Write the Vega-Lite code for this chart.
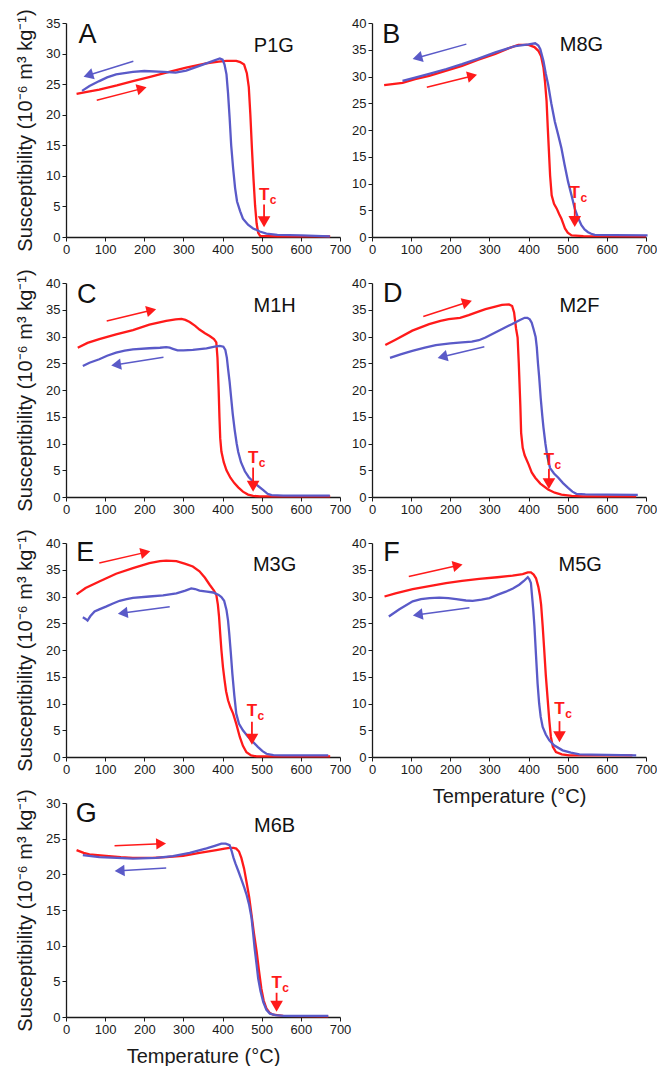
{
"$schema": "https://vega.github.io/schema/vega-lite/v6.json",
"padding": {"left": 15, "top": 8, "right": 0, "bottom": 0},
"config": {
  "font": "Liberation Sans",
  "view": {"stroke": null},
  "axis": {"grid": false, "domainColor": "#1a1a1a", "domainWidth": 1.3, "tickColor": "#1a1a1a", "tickSize": 4, "labelColor": "#1a1a1a", "labelFontSize": 13, "labelFlush": false, "labelOverlap": false, "labelPadding": 2, "titleFontWeight": "normal", "titleFontSize": 20, "titleColor": "#1a1a1a", "titlePadding": 10}
},
"datasets": {
  "curves": [
    {"panel":"A","run":"heating","T":27,"k":23.4},{"panel":"A","run":"heating","T":50,"k":23.7},{"panel":"A","run":"heating","T":85,"k":24.1},{"panel":"A","run":"heating","T":130,"k":24.8},{"panel":"A","run":"heating","T":171,"k":25.5},{"panel":"A","run":"heating","T":215,"k":26.2},{"panel":"A","run":"heating","T":256,"k":26.9},{"panel":"A","run":"heating","T":307,"k":27.7},{"panel":"A","run":"heating","T":358,"k":28.4},{"panel":"A","run":"heating","T":390,"k":28.7},{"panel":"A","run":"heating","T":410,"k":28.8},{"panel":"A","run":"heating","T":435,"k":28.8},{"panel":"A","run":"heating","T":445,"k":28.6},{"panel":"A","run":"heating","T":455,"k":28.2},{"panel":"A","run":"heating","T":462,"k":26.8},{"panel":"A","run":"heating","T":467,"k":24.5},{"panel":"A","run":"heating","T":471,"k":20},{"panel":"A","run":"heating","T":475,"k":14.5},{"panel":"A","run":"heating","T":479,"k":9.5},{"panel":"A","run":"heating","T":483,"k":5.2},{"panel":"A","run":"heating","T":487,"k":2.2},{"panel":"A","run":"heating","T":491,"k":0.7},{"panel":"A","run":"heating","T":496,"k":0.2},{"panel":"A","run":"heating","T":540,"k":0.1},{"panel":"A","run":"heating","T":675,"k":0.1},
    {"panel":"A","run":"cooling","T":41,"k":23.9},{"panel":"A","run":"cooling","T":60,"k":24.7},{"panel":"A","run":"cooling","T":85,"k":25.5},{"panel":"A","run":"cooling","T":105,"k":26.1},{"panel":"A","run":"cooling","T":128,"k":26.6},{"panel":"A","run":"cooling","T":171,"k":27},{"panel":"A","run":"cooling","T":200,"k":27.15},{"panel":"A","run":"cooling","T":250,"k":27},{"panel":"A","run":"cooling","T":280,"k":26.9},{"panel":"A","run":"cooling","T":307,"k":27.2},{"panel":"A","run":"cooling","T":341,"k":28},{"panel":"A","run":"cooling","T":376,"k":28.8},{"panel":"A","run":"cooling","T":393,"k":29.2},{"panel":"A","run":"cooling","T":400,"k":29.0},{"panel":"A","run":"cooling","T":405,"k":28.2},{"panel":"A","run":"cooling","T":410,"k":26.6},{"panel":"A","run":"cooling","T":414,"k":23.5},{"panel":"A","run":"cooling","T":418,"k":19.5},{"panel":"A","run":"cooling","T":422,"k":15},{"panel":"A","run":"cooling","T":427,"k":11.2},{"panel":"A","run":"cooling","T":432,"k":8},{"panel":"A","run":"cooling","T":437,"k":5.8},{"panel":"A","run":"cooling","T":445,"k":4.2},{"panel":"A","run":"cooling","T":452,"k":3},{"panel":"A","run":"cooling","T":465,"k":2},{"panel":"A","run":"cooling","T":478,"k":1.4},{"panel":"A","run":"cooling","T":495,"k":0.9},{"panel":"A","run":"cooling","T":512,"k":0.55},{"panel":"A","run":"cooling","T":540,"k":0.35},{"panel":"A","run":"cooling","T":600,"k":0.25},{"panel":"A","run":"cooling","T":674,"k":0.1},
    {"panel":"B","run":"heating","T":31,"k":28.4},{"panel":"B","run":"heating","T":78,"k":28.8},{"panel":"B","run":"heating","T":110,"k":29.5},{"panel":"B","run":"heating","T":146,"k":30.1},{"panel":"B","run":"heating","T":190,"k":31.1},{"panel":"B","run":"heating","T":230,"k":32},{"panel":"B","run":"heating","T":270,"k":33.1},{"panel":"B","run":"heating","T":315,"k":34.2},{"panel":"B","run":"heating","T":350,"k":35.3},{"panel":"B","run":"heating","T":374,"k":35.9},{"panel":"B","run":"heating","T":400,"k":35.9},{"panel":"B","run":"heating","T":415,"k":35.5},{"panel":"B","run":"heating","T":425,"k":34.8},{"panel":"B","run":"heating","T":432,"k":33.8},{"panel":"B","run":"heating","T":438,"k":31.7},{"panel":"B","run":"heating","T":442,"k":29},{"panel":"B","run":"heating","T":446,"k":25.4},{"panel":"B","run":"heating","T":449,"k":20.5},{"panel":"B","run":"heating","T":452,"k":16},{"panel":"B","run":"heating","T":455,"k":11.5},{"panel":"B","run":"heating","T":459,"k":7.8},{"panel":"B","run":"heating","T":465,"k":6.2},{"panel":"B","run":"heating","T":472,"k":5.3},{"panel":"B","run":"heating","T":478,"k":4.3},{"panel":"B","run":"heating","T":484,"k":3.4},{"panel":"B","run":"heating","T":489,"k":2.4},{"panel":"B","run":"heating","T":493,"k":1.6},{"panel":"B","run":"heating","T":500,"k":0.8},{"panel":"B","run":"heating","T":510,"k":0.3},{"panel":"B","run":"heating","T":540,"k":0.15},{"panel":"B","run":"heating","T":700,"k":0.1},
    {"panel":"B","run":"cooling","T":78,"k":29.2},{"panel":"B","run":"cooling","T":110,"k":29.8},{"panel":"B","run":"cooling","T":146,"k":30.5},{"panel":"B","run":"cooling","T":190,"k":31.4},{"panel":"B","run":"cooling","T":230,"k":32.3},{"panel":"B","run":"cooling","T":270,"k":33.3},{"panel":"B","run":"cooling","T":315,"k":34.5},{"panel":"B","run":"cooling","T":366,"k":35.7},{"panel":"B","run":"cooling","T":400,"k":36},{"panel":"B","run":"cooling","T":417,"k":36.2},{"panel":"B","run":"cooling","T":425,"k":35.8},{"panel":"B","run":"cooling","T":430,"k":35.1},{"panel":"B","run":"cooling","T":438,"k":32.9},{"panel":"B","run":"cooling","T":444,"k":30.5},{"panel":"B","run":"cooling","T":450,"k":28.5},{"panel":"B","run":"cooling","T":458,"k":25},{"panel":"B","run":"cooling","T":467,"k":21.6},{"panel":"B","run":"cooling","T":476,"k":19},{"panel":"B","run":"cooling","T":484,"k":16.6},{"panel":"B","run":"cooling","T":492,"k":13.5},{"panel":"B","run":"cooling","T":501,"k":10.3},{"panel":"B","run":"cooling","T":510,"k":7.7},{"panel":"B","run":"cooling","T":518,"k":5.3},{"panel":"B","run":"cooling","T":527,"k":3.5},{"panel":"B","run":"cooling","T":535,"k":2.2},{"panel":"B","run":"cooling","T":543,"k":1.4},{"panel":"B","run":"cooling","T":552,"k":0.9},{"panel":"B","run":"cooling","T":560,"k":0.6},{"panel":"B","run":"cooling","T":569,"k":0.4},{"panel":"B","run":"cooling","T":620,"k":0.35},{"panel":"B","run":"cooling","T":704,"k":0.3},
    {"panel":"C","run":"heating","T":30,"k":27.9},{"panel":"C","run":"heating","T":55,"k":28.8},{"panel":"C","run":"heating","T":85,"k":29.5},{"panel":"C","run":"heating","T":128,"k":30.4},{"panel":"C","run":"heating","T":171,"k":31.2},{"panel":"C","run":"heating","T":213,"k":32.2},{"panel":"C","run":"heating","T":256,"k":32.9},{"panel":"C","run":"heating","T":280,"k":33.2},{"panel":"C","run":"heating","T":295,"k":33.3},{"panel":"C","run":"heating","T":305,"k":33.1},{"panel":"C","run":"heating","T":316,"k":32.7},{"panel":"C","run":"heating","T":330,"k":32},{"panel":"C","run":"heating","T":341,"k":31.3},{"panel":"C","run":"heating","T":355,"k":30.6},{"panel":"C","run":"heating","T":367,"k":30.1},{"panel":"C","run":"heating","T":378,"k":29.5},{"panel":"C","run":"heating","T":384,"k":28.9},{"panel":"C","run":"heating","T":387,"k":26},{"panel":"C","run":"heating","T":390,"k":20},{"panel":"C","run":"heating","T":392,"k":15},{"panel":"C","run":"heating","T":394,"k":11},{"panel":"C","run":"heating","T":397,"k":8.5},{"panel":"C","run":"heating","T":403,"k":6.5},{"panel":"C","run":"heating","T":410,"k":5},{"panel":"C","run":"heating","T":420,"k":3.6},{"panel":"C","run":"heating","T":430,"k":2.6},{"panel":"C","run":"heating","T":440,"k":1.8},{"panel":"C","run":"heating","T":452,"k":1.0},{"panel":"C","run":"heating","T":465,"k":0.45},{"panel":"C","run":"heating","T":478,"k":0.2},{"panel":"C","run":"heating","T":495,"k":0.1},{"panel":"C","run":"heating","T":675,"k":0.1},
    {"panel":"C","run":"cooling","T":43,"k":24.5},{"panel":"C","run":"cooling","T":60,"k":25.1},{"panel":"C","run":"cooling","T":85,"k":25.75},{"panel":"C","run":"cooling","T":105,"k":26.4},{"panel":"C","run":"cooling","T":128,"k":27},{"panel":"C","run":"cooling","T":150,"k":27.35},{"panel":"C","run":"cooling","T":171,"k":27.6},{"panel":"C","run":"cooling","T":213,"k":27.8},{"panel":"C","run":"cooling","T":240,"k":27.9},{"panel":"C","run":"cooling","T":256,"k":28},{"panel":"C","run":"cooling","T":265,"k":27.9},{"panel":"C","run":"cooling","T":273,"k":27.7},{"panel":"C","run":"cooling","T":285,"k":27.4},{"panel":"C","run":"cooling","T":300,"k":27.4},{"panel":"C","run":"cooling","T":324,"k":27.5},{"panel":"C","run":"cooling","T":359,"k":27.8},{"panel":"C","run":"cooling","T":380,"k":28.1},{"panel":"C","run":"cooling","T":393,"k":28.25},{"panel":"C","run":"cooling","T":402,"k":28.1},{"panel":"C","run":"cooling","T":407,"k":27.5},{"panel":"C","run":"cooling","T":411,"k":26},{"panel":"C","run":"cooling","T":414,"k":24},{"panel":"C","run":"cooling","T":418,"k":21.5},{"panel":"C","run":"cooling","T":422,"k":18.5},{"panel":"C","run":"cooling","T":426,"k":15.5},{"panel":"C","run":"cooling","T":431,"k":12.5},{"panel":"C","run":"cooling","T":436,"k":10},{"panel":"C","run":"cooling","T":440,"k":8.4},{"panel":"C","run":"cooling","T":447,"k":6.5},{"panel":"C","run":"cooling","T":457,"k":4.8},{"panel":"C","run":"cooling","T":467,"k":3.7},{"panel":"C","run":"cooling","T":478,"k":2.9},{"panel":"C","run":"cooling","T":490,"k":2.1},{"panel":"C","run":"cooling","T":504,"k":1.3},{"panel":"C","run":"cooling","T":515,"k":0.6},{"panel":"C","run":"cooling","T":525,"k":0.35},{"panel":"C","run":"cooling","T":555,"k":0.25},{"panel":"C","run":"cooling","T":674,"k":0.25},
    {"panel":"D","run":"heating","T":34,"k":28.4},{"panel":"D","run":"heating","T":60,"k":29.4},{"panel":"D","run":"heating","T":103,"k":31.1},{"panel":"D","run":"heating","T":146,"k":32.3},{"panel":"D","run":"heating","T":175,"k":32.9},{"panel":"D","run":"heating","T":196,"k":33.25},{"panel":"D","run":"heating","T":225,"k":33.5},{"panel":"D","run":"heating","T":247,"k":34},{"panel":"D","run":"heating","T":270,"k":34.6},{"panel":"D","run":"heating","T":290,"k":35.1},{"panel":"D","run":"heating","T":315,"k":35.6},{"panel":"D","run":"heating","T":332,"k":35.9},{"panel":"D","run":"heating","T":350,"k":36},{"panel":"D","run":"heating","T":358,"k":35.7},{"panel":"D","run":"heating","T":363,"k":34.5},{"panel":"D","run":"heating","T":368,"k":31.5},{"panel":"D","run":"heating","T":372,"k":29.8},{"panel":"D","run":"heating","T":375,"k":25},{"panel":"D","run":"heating","T":377,"k":21},{"panel":"D","run":"heating","T":379,"k":17},{"panel":"D","run":"heating","T":381,"k":12},{"panel":"D","run":"heating","T":385,"k":9.2},{"panel":"D","run":"heating","T":390,"k":7.8},{"panel":"D","run":"heating","T":400,"k":6.1},{"panel":"D","run":"heating","T":408,"k":4.6},{"panel":"D","run":"heating","T":417,"k":3.6},{"panel":"D","run":"heating","T":430,"k":2.5},{"panel":"D","run":"heating","T":450,"k":1.4},{"panel":"D","run":"heating","T":467,"k":0.8},{"panel":"D","run":"heating","T":484,"k":0.44},{"panel":"D","run":"heating","T":510,"k":0.2},{"panel":"D","run":"heating","T":540,"k":0.1},{"panel":"D","run":"heating","T":675,"k":0.1},
    {"panel":"D","run":"cooling","T":46,"k":26},{"panel":"D","run":"cooling","T":75,"k":26.7},{"panel":"D","run":"cooling","T":103,"k":27.3},{"panel":"D","run":"cooling","T":135,"k":27.9},{"panel":"D","run":"cooling","T":163,"k":28.4},{"panel":"D","run":"cooling","T":200,"k":28.7},{"panel":"D","run":"cooling","T":230,"k":28.9},{"panel":"D","run":"cooling","T":255,"k":29.05},{"panel":"D","run":"cooling","T":273,"k":29.3},{"panel":"D","run":"cooling","T":290,"k":29.8},{"panel":"D","run":"cooling","T":315,"k":30.75},{"panel":"D","run":"cooling","T":340,"k":31.7},{"panel":"D","run":"cooling","T":357,"k":32.3},{"panel":"D","run":"cooling","T":378,"k":33.1},{"panel":"D","run":"cooling","T":390,"k":33.5},{"panel":"D","run":"cooling","T":397,"k":33.5},{"panel":"D","run":"cooling","T":403,"k":33.2},{"panel":"D","run":"cooling","T":408,"k":32.6},{"panel":"D","run":"cooling","T":413,"k":31.3},{"panel":"D","run":"cooling","T":418,"k":29.9},{"panel":"D","run":"cooling","T":421,"k":28},{"panel":"D","run":"cooling","T":424,"k":25},{"panel":"D","run":"cooling","T":427,"k":22.5},{"panel":"D","run":"cooling","T":431,"k":18.5},{"panel":"D","run":"cooling","T":435,"k":15.2},{"panel":"D","run":"cooling","T":438,"k":13},{"panel":"D","run":"cooling","T":443,"k":10},{"panel":"D","run":"cooling","T":448,"k":7.5},{"panel":"D","run":"cooling","T":455,"k":5.4},{"panel":"D","run":"cooling","T":465,"k":4.4},{"panel":"D","run":"cooling","T":476,"k":3.6},{"panel":"D","run":"cooling","T":488,"k":2.6},{"panel":"D","run":"cooling","T":501,"k":1.7},{"panel":"D","run":"cooling","T":512,"k":1.0},{"panel":"D","run":"cooling","T":522,"k":0.6},{"panel":"D","run":"cooling","T":545,"k":0.5},{"panel":"D","run":"cooling","T":600,"k":0.45},{"panel":"D","run":"cooling","T":679,"k":0.4},
    {"panel":"E","run":"heating","T":27,"k":30.4},{"panel":"E","run":"heating","T":50,"k":31.6},{"panel":"E","run":"heating","T":85,"k":32.8},{"panel":"E","run":"heating","T":128,"k":34.25},{"panel":"E","run":"heating","T":171,"k":35.3},{"panel":"E","run":"heating","T":213,"k":36.25},{"panel":"E","run":"heating","T":240,"k":36.6},{"panel":"E","run":"heating","T":256,"k":36.7},{"panel":"E","run":"heating","T":282,"k":36.6},{"panel":"E","run":"heating","T":305,"k":36.1},{"panel":"E","run":"heating","T":324,"k":35.6},{"panel":"E","run":"heating","T":341,"k":34.7},{"panel":"E","run":"heating","T":355,"k":33.5},{"panel":"E","run":"heating","T":367,"k":32.2},{"panel":"E","run":"heating","T":378,"k":31.1},{"panel":"E","run":"heating","T":384,"k":30.3},{"panel":"E","run":"heating","T":388,"k":28.5},{"panel":"E","run":"heating","T":391,"k":26.25},{"panel":"E","run":"heating","T":394,"k":23},{"panel":"E","run":"heating","T":397,"k":20},{"panel":"E","run":"heating","T":401,"k":16.8},{"panel":"E","run":"heating","T":405,"k":14.4},{"panel":"E","run":"heating","T":409,"k":12.3},{"panel":"E","run":"heating","T":414,"k":10.6},{"panel":"E","run":"heating","T":420,"k":9.3},{"panel":"E","run":"heating","T":427,"k":8.1},{"panel":"E","run":"heating","T":435,"k":6.2},{"panel":"E","run":"heating","T":444,"k":3.75},{"panel":"E","run":"heating","T":452,"k":2.1},{"panel":"E","run":"heating","T":461,"k":0.9},{"panel":"E","run":"heating","T":473,"k":0.3},{"panel":"E","run":"heating","T":487,"k":0.1},{"panel":"E","run":"heating","T":675,"k":0.1},
    {"panel":"E","run":"cooling","T":43,"k":26.1},{"panel":"E","run":"cooling","T":50,"k":25.8},{"panel":"E","run":"cooling","T":55,"k":25.5},{"panel":"E","run":"cooling","T":62,"k":26.3},{"panel":"E","run":"cooling","T":73,"k":27.2},{"panel":"E","run":"cooling","T":85,"k":27.6},{"panel":"E","run":"cooling","T":102,"k":28.1},{"panel":"E","run":"cooling","T":120,"k":28.7},{"panel":"E","run":"cooling","T":137,"k":29.2},{"panel":"E","run":"cooling","T":155,"k":29.5},{"panel":"E","run":"cooling","T":171,"k":29.75},{"panel":"E","run":"cooling","T":213,"k":30},{"panel":"E","run":"cooling","T":248,"k":30.2},{"panel":"E","run":"cooling","T":282,"k":30.6},{"panel":"E","run":"cooling","T":305,"k":31.1},{"panel":"E","run":"cooling","T":320,"k":31.5},{"panel":"E","run":"cooling","T":330,"k":31.4},{"panel":"E","run":"cooling","T":341,"k":31.1},{"panel":"E","run":"cooling","T":360,"k":30.9},{"panel":"E","run":"cooling","T":376,"k":30.75},{"panel":"E","run":"cooling","T":390,"k":30.3},{"panel":"E","run":"cooling","T":397,"k":29.9},{"panel":"E","run":"cooling","T":404,"k":29.2},{"panel":"E","run":"cooling","T":410,"k":27.5},{"panel":"E","run":"cooling","T":414,"k":25.5},{"panel":"E","run":"cooling","T":417,"k":23.1},{"panel":"E","run":"cooling","T":421,"k":19.5},{"panel":"E","run":"cooling","T":425,"k":15.6},{"panel":"E","run":"cooling","T":430,"k":11.5},{"panel":"E","run":"cooling","T":435,"k":8.1},{"panel":"E","run":"cooling","T":442,"k":6.2},{"panel":"E","run":"cooling","T":452,"k":5},{"panel":"E","run":"cooling","T":465,"k":3.8},{"panel":"E","run":"cooling","T":478,"k":2.8},{"panel":"E","run":"cooling","T":490,"k":1.9},{"panel":"E","run":"cooling","T":502,"k":1.1},{"panel":"E","run":"cooling","T":512,"k":0.6},{"panel":"E","run":"cooling","T":530,"k":0.35},{"panel":"E","run":"cooling","T":555,"k":0.3},{"panel":"E","run":"cooling","T":670,"k":0.3},
    {"panel":"F","run":"heating","T":32,"k":30},{"panel":"F","run":"heating","T":60,"k":30.6},{"panel":"F","run":"heating","T":104,"k":31.4},{"panel":"F","run":"heating","T":150,"k":32},{"panel":"F","run":"heating","T":189,"k":32.5},{"panel":"F","run":"heating","T":230,"k":32.9},{"panel":"F","run":"heating","T":274,"k":33.3},{"panel":"F","run":"heating","T":320,"k":33.6},{"panel":"F","run":"heating","T":359,"k":33.9},{"panel":"F","run":"heating","T":385,"k":34.2},{"panel":"F","run":"heating","T":398,"k":34.5},{"panel":"F","run":"heating","T":406,"k":34.5},{"panel":"F","run":"heating","T":413,"k":34.1},{"panel":"F","run":"heating","T":419,"k":33.4},{"panel":"F","run":"heating","T":425,"k":31.8},{"panel":"F","run":"heating","T":429,"k":30.2},{"panel":"F","run":"heating","T":432,"k":28.5},{"panel":"F","run":"heating","T":436,"k":24.5},{"panel":"F","run":"heating","T":440,"k":20},{"panel":"F","run":"heating","T":444,"k":15.3},{"panel":"F","run":"heating","T":449,"k":10.6},{"panel":"F","run":"heating","T":453,"k":6.8},{"panel":"F","run":"heating","T":457,"k":3.75},{"panel":"F","run":"heating","T":462,"k":1.9},{"panel":"F","run":"heating","T":470,"k":0.9},{"panel":"F","run":"heating","T":485,"k":0.5},{"panel":"F","run":"heating","T":504,"k":0.3},{"panel":"F","run":"heating","T":665,"k":0.3},
    {"panel":"F","run":"cooling","T":43,"k":26.25},{"panel":"F","run":"cooling","T":70,"k":27.6},{"panel":"F","run":"cooling","T":104,"k":29.1},{"panel":"F","run":"cooling","T":125,"k":29.5},{"panel":"F","run":"cooling","T":147,"k":29.7},{"panel":"F","run":"cooling","T":172,"k":29.8},{"panel":"F","run":"cooling","T":195,"k":29.7},{"panel":"F","run":"cooling","T":215,"k":29.5},{"panel":"F","run":"cooling","T":240,"k":29.25},{"panel":"F","run":"cooling","T":257,"k":29.2},{"panel":"F","run":"cooling","T":280,"k":29.4},{"panel":"F","run":"cooling","T":300,"k":29.7},{"panel":"F","run":"cooling","T":320,"k":30.3},{"panel":"F","run":"cooling","T":342,"k":30.9},{"panel":"F","run":"cooling","T":360,"k":31.5},{"panel":"F","run":"cooling","T":376,"k":32.2},{"panel":"F","run":"cooling","T":388,"k":32.9},{"panel":"F","run":"cooling","T":398,"k":33.6},{"panel":"F","run":"cooling","T":402,"k":33.2},{"panel":"F","run":"cooling","T":406,"k":32.5},{"panel":"F","run":"cooling","T":409,"k":30},{"panel":"F","run":"cooling","T":412,"k":27.5},{"panel":"F","run":"cooling","T":415,"k":24.4},{"panel":"F","run":"cooling","T":419,"k":19},{"panel":"F","run":"cooling","T":423,"k":13.75},{"panel":"F","run":"cooling","T":427,"k":10},{"panel":"F","run":"cooling","T":431,"k":7.5},{"panel":"F","run":"cooling","T":436,"k":5.6},{"panel":"F","run":"cooling","T":444,"k":4.2},{"panel":"F","run":"cooling","T":453,"k":3.1},{"panel":"F","run":"cooling","T":465,"k":2.2},{"panel":"F","run":"cooling","T":487,"k":1.25},{"panel":"F","run":"cooling","T":508,"k":0.8},{"panel":"F","run":"cooling","T":530,"k":0.5},{"panel":"F","run":"cooling","T":560,"k":0.45},{"panel":"F","run":"cooling","T":600,"k":0.4},{"panel":"F","run":"cooling","T":675,"k":0.3},
    {"panel":"G","run":"heating","T":27,"k":23.4},{"panel":"G","run":"heating","T":45,"k":23.0},{"panel":"G","run":"heating","T":60,"k":22.8},{"panel":"G","run":"heating","T":102,"k":22.6},{"panel":"G","run":"heating","T":140,"k":22.4},{"panel":"G","run":"heating","T":171,"k":22.3},{"panel":"G","run":"heating","T":220,"k":22.3},{"panel":"G","run":"heating","T":256,"k":22.4},{"panel":"G","run":"heating","T":299,"k":22.6},{"panel":"G","run":"heating","T":341,"k":23},{"panel":"G","run":"heating","T":384,"k":23.4},{"panel":"G","run":"heating","T":405,"k":23.6},{"panel":"G","run":"heating","T":418,"k":23.7},{"panel":"G","run":"heating","T":428,"k":23.7},{"panel":"G","run":"heating","T":435,"k":23.6},{"panel":"G","run":"heating","T":442,"k":23.2},{"panel":"G","run":"heating","T":448,"k":22.3},{"panel":"G","run":"heating","T":455,"k":20.8},{"panel":"G","run":"heating","T":461,"k":19},{"panel":"G","run":"heating","T":468,"k":16.8},{"panel":"G","run":"heating","T":474,"k":14.3},{"panel":"G","run":"heating","T":480,"k":11.8},{"panel":"G","run":"heating","T":487,"k":9.2},{"panel":"G","run":"heating","T":493,"k":6.5},{"panel":"G","run":"heating","T":499,"k":4},{"panel":"G","run":"heating","T":505,"k":2.3},{"panel":"G","run":"heating","T":512,"k":1.2},{"panel":"G","run":"heating","T":520,"k":0.6},{"panel":"G","run":"heating","T":529,"k":0.33},{"panel":"G","run":"heating","T":555,"k":0.15},{"panel":"G","run":"heating","T":670,"k":0.1},
    {"panel":"G","run":"cooling","T":43,"k":22.7},{"panel":"G","run":"cooling","T":85,"k":22.4},{"panel":"G","run":"cooling","T":130,"k":22.3},{"panel":"G","run":"cooling","T":171,"k":22.2},{"panel":"G","run":"cooling","T":230,"k":22.3},{"panel":"G","run":"cooling","T":273,"k":22.55},{"panel":"G","run":"cooling","T":316,"k":23},{"panel":"G","run":"cooling","T":359,"k":23.65},{"panel":"G","run":"cooling","T":380,"k":24},{"panel":"G","run":"cooling","T":397,"k":24.3},{"panel":"G","run":"cooling","T":408,"k":24.3},{"panel":"G","run":"cooling","T":418,"k":24.1},{"panel":"G","run":"cooling","T":423,"k":23.3},{"panel":"G","run":"cooling","T":428,"k":22.3},{"panel":"G","run":"cooling","T":433,"k":21.5},{"panel":"G","run":"cooling","T":440,"k":20.5},{"panel":"G","run":"cooling","T":448,"k":19.3},{"panel":"G","run":"cooling","T":455,"k":18.2},{"panel":"G","run":"cooling","T":461,"k":17.2},{"panel":"G","run":"cooling","T":468,"k":15.7},{"panel":"G","run":"cooling","T":474,"k":13.9},{"panel":"G","run":"cooling","T":478,"k":11.8},{"panel":"G","run":"cooling","T":482,"k":9.6},{"panel":"G","run":"cooling","T":487,"k":7.3},{"panel":"G","run":"cooling","T":491,"k":5.4},{"panel":"G","run":"cooling","T":497,"k":3.6},{"panel":"G","run":"cooling","T":504,"k":2.1},{"panel":"G","run":"cooling","T":512,"k":1.0},{"panel":"G","run":"cooling","T":521,"k":0.47},{"panel":"G","run":"cooling","T":535,"k":0.25},{"panel":"G","run":"cooling","T":555,"k":0.15},{"panel":"G","run":"cooling","T":670,"k":0.15}
  ],
  "arrows": [
    {"panel":"A","run":"heating","part":"tail","T":78.5,"k":22.35},{"panel":"A","run":"heating","part":"head","T":193.6,"k":24.27},{"panel":"A","run":"cooling","part":"tail","T":172,"k":28.75},{"panel":"A","run":"cooling","part":"head","T":57,"k":26.45},
    {"panel":"B","run":"heating","part":"tail","T":140,"k":28.0},{"panel":"B","run":"heating","part":"head","T":256,"k":30.1},{"panel":"B","run":"cooling","part":"tail","T":241,"k":36.05},{"panel":"B","run":"cooling","part":"head","T":116,"k":33.5},
    {"panel":"C","run":"heating","part":"tail","T":104,"k":32.9},{"panel":"C","run":"heating","part":"head","T":218,"k":34.9},{"panel":"C","run":"cooling","part":"tail","T":249,"k":26.1},{"panel":"C","run":"cooling","part":"head","T":128,"k":24.7},
    {"panel":"D","run":"heating","part":"tail","T":131,"k":33.75},{"panel":"D","run":"heating","part":"head","T":243,"k":36.4},{"panel":"D","run":"cooling","part":"tail","T":287,"k":28.1},{"panel":"D","run":"cooling","part":"head","T":180,"k":26.2},
    {"panel":"E","run":"heating","part":"tail","T":85,"k":36.25},{"panel":"E","run":"heating","part":"head","T":203,"k":38.25},{"panel":"E","run":"cooling","part":"tail","T":265,"k":28.1},{"panel":"E","run":"cooling","part":"head","T":145,"k":26.9},
    {"panel":"F","run":"heating","part":"tail","T":94,"k":33.75},{"panel":"F","run":"heating","part":"head","T":219,"k":35.8},{"panel":"F","run":"cooling","part":"tail","T":249,"k":27.9},{"panel":"F","run":"cooling","part":"head","T":117,"k":26.6},
    {"panel":"G","run":"heating","part":"tail","T":124,"k":24.0},{"panel":"G","run":"heating","part":"head","T":243,"k":24.3},{"panel":"G","run":"cooling","part":"tail","T":256,"k":20.9},{"panel":"G","run":"cooling","part":"head","T":137,"k":20.5}
  ],
  "tc": [
    {"panel":"A","part":"text","T":506,"k":6.9},{"panel":"A","part":"top","T":506,"k":5.3},{"panel":"A","part":"head","T":506,"k":2.5},
    {"panel":"B","part":"text","T":518,"k":8.2},{"panel":"B","part":"top","T":518,"k":6.4},{"panel":"B","part":"head","T":518,"k":2.9},
    {"panel":"C","part":"text","T":478,"k":7.3},{"panel":"C","part":"top","T":478,"k":5.5},{"panel":"C","part":"head","T":478,"k":2.0},
    {"panel":"D","part":"text","T":452,"k":7.0},{"panel":"D","part":"top","T":452,"k":5.3},{"panel":"D","part":"head","T":452,"k":2.5},
    {"panel":"E","part":"text","T":475,"k":8.6},{"panel":"E","part":"top","T":475,"k":6.6},{"panel":"E","part":"head","T":475,"k":3.3},
    {"panel":"F","part":"text","T":479,"k":8.9},{"panel":"F","part":"top","T":479,"k":6.7},{"panel":"F","part":"head","T":479,"k":3.8},
    {"panel":"G","part":"text","T":538,"k":4.7},{"panel":"G","part":"top","T":538,"k":3.4},{"panel":"G","part":"head","T":538,"k":1.5}
  ],
  "labels": [
    {"panel":"A","kind":"letter","label":"A","T":55,"k":33.0},{"panel":"A","kind":"name","label":"P1G","T":531,"k":31.2},
    {"panel":"B","kind":"letter","label":"B","T":49,"k":37.7},{"panel":"B","kind":"name","label":"M8G","T":535,"k":35.8},
    {"panel":"C","kind":"letter","label":"C","T":53,"k":37.8},{"panel":"C","kind":"name","label":"M1H","T":533,"k":35.7},
    {"panel":"D","kind":"letter","label":"D","T":53,"k":37.9},{"panel":"D","kind":"name","label":"M2F","T":530,"k":35.7},
    {"panel":"E","kind":"letter","label":"E","T":49,"k":38.1},{"panel":"E","kind":"name","label":"M3G","T":533,"k":35.9},
    {"panel":"F","kind":"letter","label":"F","T":50,"k":38.1},{"panel":"F","kind":"name","label":"M5G","T":532,"k":35.9},
    {"panel":"G","kind":"letter","label":"G","T":52,"k":28.5},{"panel":"G","kind":"name","label":"M6B","T":533,"k":26.8}
  ]
},
"columns": 2,
"spacing": {"row": 46, "column": 32},
"bounds": "flush",
"concat": [
  {"width": 274, "height": 214,
   "encoding": {"x": {"field": "T", "type": "quantitative", "scale": {"domain": [0, 700]}, "axis": {"title": null, "values": [0,100,200,300,400,500,600,700]}},
                "y": {"field": "k", "type": "quantitative", "scale": {"domain": [0, 35]}, "axis": {"title": "Susceptibility (10⁻⁶ m³ kg⁻¹)", "values": [0,5,10,15,20,25,30,35]}}},
   "layer": [
    {"data": {"name": "curves"}, "transform": [{"filter": "datum.panel === 'A' && datum.run === 'heating'"}], "mark": {"type": "line", "color": "#ff1a1a", "strokeWidth": 2.3}, "encoding": {}},
    {"data": {"name": "curves"}, "transform": [{"filter": "datum.panel === 'A' && datum.run === 'cooling'"}], "mark": {"type": "line", "color": "#5a5ac8", "strokeWidth": 2.3}, "encoding": {}},
    {"data": {"name": "arrows"}, "transform": [{"filter": "datum.panel === 'A'"}], "mark": {"type": "line", "strokeWidth": 1.5},
     "encoding": {"color": {"field": "run", "type": "nominal", "scale": {"domain": ["heating", "cooling"], "range": ["#ff1a1a", "#5a5ac8"]}, "legend": null}}},
    {"data": {"name": "arrows"}, "transform": [{"filter": "datum.panel === 'A' && datum.part === 'head' && datum.run === 'heating'"}], "mark": {"type": "point", "shape": "triangle-right", "filled": true, "opacity": 1, "size": 130, "color": "#ff1a1a", "angle": -14.5}},
    {"data": {"name": "arrows"}, "transform": [{"filter": "datum.panel === 'A' && datum.part === 'head' && datum.run === 'cooling'"}], "mark": {"type": "point", "shape": "triangle-left", "filled": true, "opacity": 1, "size": 130, "color": "#5a5ac8", "angle": -17.3}},
    {"data": {"name": "tc"}, "transform": [{"filter": "datum.panel === 'A' && datum.part !== 'text'"}], "mark": {"type": "line", "strokeWidth": 1.8, "color": "#ff1a1a"}, "encoding": {}},
    {"data": {"name": "tc"}, "transform": [{"filter": "datum.panel === 'A' && datum.part === 'head'"}], "mark": {"type": "point", "shape": "triangle-down", "filled": true, "opacity": 1, "size": 160, "color": "#ff1a1a"}},
    {"data": {"name": "tc"}, "transform": [{"filter": "datum.panel === 'A' && datum.part === 'text'"}], "mark": {"type": "text", "text": "T", "fontSize": 17, "fontWeight": "bold", "color": "#ff1a1a", "baseline": "middle", "align": "center"}},
    {"data": {"name": "tc"}, "transform": [{"filter": "datum.panel === 'A' && datum.part === 'text'"}], "mark": {"type": "text", "text": "c", "fontSize": 12, "fontWeight": "bold", "color": "#ff1a1a", "baseline": "middle", "align": "center", "dx": 9, "dy": 5}},
    {"data": {"name": "labels"}, "transform": [{"filter": "datum.panel === 'A' && datum.kind === 'letter'"}], "mark": {"type": "text", "fontSize": 27, "color": "#111", "baseline": "middle", "align": "center"}, "encoding": {"text": {"field": "label"}}},
    {"data": {"name": "labels"}, "transform": [{"filter": "datum.panel === 'A' && datum.kind === 'name'"}], "mark": {"type": "text", "fontSize": 20, "color": "#111", "baseline": "middle", "align": "center"}, "encoding": {"text": {"field": "label"}}}
  ]},
  {"width": 274, "height": 214,
   "encoding": {"x": {"field": "T", "type": "quantitative", "scale": {"domain": [0, 700]}, "axis": {"title": null, "values": [0,100,200,300,400,500,600,700]}},
                "y": {"field": "k", "type": "quantitative", "scale": {"domain": [0, 40]}, "axis": {"title": null, "values": [0,5,10,15,20,25,30,35,40]}}},
   "layer": [
    {"data": {"name": "curves"}, "transform": [{"filter": "datum.panel === 'B' && datum.run === 'heating'"}], "mark": {"type": "line", "color": "#ff1a1a", "strokeWidth": 2.3}, "encoding": {}},
    {"data": {"name": "curves"}, "transform": [{"filter": "datum.panel === 'B' && datum.run === 'cooling'"}], "mark": {"type": "line", "color": "#5a5ac8", "strokeWidth": 2.3}, "encoding": {}},
    {"data": {"name": "arrows"}, "transform": [{"filter": "datum.panel === 'B'"}], "mark": {"type": "line", "strokeWidth": 1.5},
     "encoding": {"color": {"field": "run", "type": "nominal", "scale": {"domain": ["heating", "cooling"], "range": ["#ff1a1a", "#5a5ac8"]}, "legend": null}}},
    {"data": {"name": "arrows"}, "transform": [{"filter": "datum.panel === 'B' && datum.part === 'head' && datum.run === 'heating'"}], "mark": {"type": "point", "shape": "triangle-right", "filled": true, "opacity": 1, "size": 130, "color": "#ff1a1a", "angle": -13.5}},
    {"data": {"name": "arrows"}, "transform": [{"filter": "datum.panel === 'B' && datum.part === 'head' && datum.run === 'cooling'"}], "mark": {"type": "point", "shape": "triangle-left", "filled": true, "opacity": 1, "size": 130, "color": "#5a5ac8", "angle": -15.1}},
    {"data": {"name": "tc"}, "transform": [{"filter": "datum.panel === 'B' && datum.part !== 'text'"}], "mark": {"type": "line", "strokeWidth": 1.8, "color": "#ff1a1a"}, "encoding": {}},
    {"data": {"name": "tc"}, "transform": [{"filter": "datum.panel === 'B' && datum.part === 'head'"}], "mark": {"type": "point", "shape": "triangle-down", "filled": true, "opacity": 1, "size": 160, "color": "#ff1a1a"}},
    {"data": {"name": "tc"}, "transform": [{"filter": "datum.panel === 'B' && datum.part === 'text'"}], "mark": {"type": "text", "text": "T", "fontSize": 17, "fontWeight": "bold", "color": "#ff1a1a", "baseline": "middle", "align": "center"}},
    {"data": {"name": "tc"}, "transform": [{"filter": "datum.panel === 'B' && datum.part === 'text'"}], "mark": {"type": "text", "text": "c", "fontSize": 12, "fontWeight": "bold", "color": "#ff1a1a", "baseline": "middle", "align": "center", "dx": 9, "dy": 5}},
    {"data": {"name": "labels"}, "transform": [{"filter": "datum.panel === 'B' && datum.kind === 'letter'"}], "mark": {"type": "text", "fontSize": 27, "color": "#111", "baseline": "middle", "align": "center"}, "encoding": {"text": {"field": "label"}}},
    {"data": {"name": "labels"}, "transform": [{"filter": "datum.panel === 'B' && datum.kind === 'name'"}], "mark": {"type": "text", "fontSize": 20, "color": "#111", "baseline": "middle", "align": "center"}, "encoding": {"text": {"field": "label"}}}
  ]},
  {"width": 274, "height": 214,
   "encoding": {"x": {"field": "T", "type": "quantitative", "scale": {"domain": [0, 700]}, "axis": {"title": null, "values": [0,100,200,300,400,500,600,700]}},
                "y": {"field": "k", "type": "quantitative", "scale": {"domain": [0, 40]}, "axis": {"title": "Susceptibility (10⁻⁶ m³ kg⁻¹)", "values": [0,5,10,15,20,25,30,35,40]}}},
   "layer": [
    {"data": {"name": "curves"}, "transform": [{"filter": "datum.panel === 'C' && datum.run === 'heating'"}], "mark": {"type": "line", "color": "#ff1a1a", "strokeWidth": 2.3}, "encoding": {}},
    {"data": {"name": "curves"}, "transform": [{"filter": "datum.panel === 'C' && datum.run === 'cooling'"}], "mark": {"type": "line", "color": "#5a5ac8", "strokeWidth": 2.3}, "encoding": {}},
    {"data": {"name": "arrows"}, "transform": [{"filter": "datum.panel === 'C'"}], "mark": {"type": "line", "strokeWidth": 1.5},
     "encoding": {"color": {"field": "run", "type": "nominal", "scale": {"domain": ["heating", "cooling"], "range": ["#ff1a1a", "#5a5ac8"]}, "legend": null}}},
    {"data": {"name": "arrows"}, "transform": [{"filter": "datum.panel === 'C' && datum.part === 'head' && datum.run === 'heating'"}], "mark": {"type": "point", "shape": "triangle-right", "filled": true, "opacity": 1, "size": 130, "color": "#ff1a1a", "angle": -13.5}},
    {"data": {"name": "arrows"}, "transform": [{"filter": "datum.panel === 'C' && datum.part === 'head' && datum.run === 'cooling'"}], "mark": {"type": "point", "shape": "triangle-left", "filled": true, "opacity": 1, "size": 130, "color": "#5a5ac8", "angle": -8.8}},
    {"data": {"name": "tc"}, "transform": [{"filter": "datum.panel === 'C' && datum.part !== 'text'"}], "mark": {"type": "line", "strokeWidth": 1.8, "color": "#ff1a1a"}, "encoding": {}},
    {"data": {"name": "tc"}, "transform": [{"filter": "datum.panel === 'C' && datum.part === 'head'"}], "mark": {"type": "point", "shape": "triangle-down", "filled": true, "opacity": 1, "size": 160, "color": "#ff1a1a"}},
    {"data": {"name": "tc"}, "transform": [{"filter": "datum.panel === 'C' && datum.part === 'text'"}], "mark": {"type": "text", "text": "T", "fontSize": 17, "fontWeight": "bold", "color": "#ff1a1a", "baseline": "middle", "align": "center"}},
    {"data": {"name": "tc"}, "transform": [{"filter": "datum.panel === 'C' && datum.part === 'text'"}], "mark": {"type": "text", "text": "c", "fontSize": 12, "fontWeight": "bold", "color": "#ff1a1a", "baseline": "middle", "align": "center", "dx": 9, "dy": 5}},
    {"data": {"name": "labels"}, "transform": [{"filter": "datum.panel === 'C' && datum.kind === 'letter'"}], "mark": {"type": "text", "fontSize": 27, "color": "#111", "baseline": "middle", "align": "center"}, "encoding": {"text": {"field": "label"}}},
    {"data": {"name": "labels"}, "transform": [{"filter": "datum.panel === 'C' && datum.kind === 'name'"}], "mark": {"type": "text", "fontSize": 20, "color": "#111", "baseline": "middle", "align": "center"}, "encoding": {"text": {"field": "label"}}}
  ]},
  {"width": 274, "height": 214,
   "encoding": {"x": {"field": "T", "type": "quantitative", "scale": {"domain": [0, 700]}, "axis": {"title": null, "values": [0,100,200,300,400,500,600,700]}},
                "y": {"field": "k", "type": "quantitative", "scale": {"domain": [0, 40]}, "axis": {"title": null, "values": [0,5,10,15,20,25,30,35,40]}}},
   "layer": [
    {"data": {"name": "curves"}, "transform": [{"filter": "datum.panel === 'D' && datum.run === 'heating'"}], "mark": {"type": "line", "color": "#ff1a1a", "strokeWidth": 2.3}, "encoding": {}},
    {"data": {"name": "curves"}, "transform": [{"filter": "datum.panel === 'D' && datum.run === 'cooling'"}], "mark": {"type": "line", "color": "#5a5ac8", "strokeWidth": 2.3}, "encoding": {}},
    {"data": {"name": "arrows"}, "transform": [{"filter": "datum.panel === 'D'"}], "mark": {"type": "line", "strokeWidth": 1.5},
     "encoding": {"color": {"field": "run", "type": "nominal", "scale": {"domain": ["heating", "cooling"], "range": ["#ff1a1a", "#5a5ac8"]}, "legend": null}}},
    {"data": {"name": "arrows"}, "transform": [{"filter": "datum.panel === 'D' && datum.part === 'head' && datum.run === 'heating'"}], "mark": {"type": "point", "shape": "triangle-right", "filled": true, "opacity": 1, "size": 130, "color": "#ff1a1a", "angle": -17.6}},
    {"data": {"name": "arrows"}, "transform": [{"filter": "datum.panel === 'D' && datum.part === 'head' && datum.run === 'cooling'"}], "mark": {"type": "point", "shape": "triangle-left", "filled": true, "opacity": 1, "size": 130, "color": "#5a5ac8", "angle": -13.7}},
    {"data": {"name": "tc"}, "transform": [{"filter": "datum.panel === 'D' && datum.part !== 'text'"}], "mark": {"type": "line", "strokeWidth": 1.8, "color": "#ff1a1a"}, "encoding": {}},
    {"data": {"name": "tc"}, "transform": [{"filter": "datum.panel === 'D' && datum.part === 'head'"}], "mark": {"type": "point", "shape": "triangle-down", "filled": true, "opacity": 1, "size": 160, "color": "#ff1a1a"}},
    {"data": {"name": "tc"}, "transform": [{"filter": "datum.panel === 'D' && datum.part === 'text'"}], "mark": {"type": "text", "text": "T", "fontSize": 17, "fontWeight": "bold", "color": "#ff1a1a", "baseline": "middle", "align": "center"}},
    {"data": {"name": "tc"}, "transform": [{"filter": "datum.panel === 'D' && datum.part === 'text'"}], "mark": {"type": "text", "text": "c", "fontSize": 12, "fontWeight": "bold", "color": "#ff1a1a", "baseline": "middle", "align": "center", "dx": 9, "dy": 5}},
    {"data": {"name": "labels"}, "transform": [{"filter": "datum.panel === 'D' && datum.kind === 'letter'"}], "mark": {"type": "text", "fontSize": 27, "color": "#111", "baseline": "middle", "align": "center"}, "encoding": {"text": {"field": "label"}}},
    {"data": {"name": "labels"}, "transform": [{"filter": "datum.panel === 'D' && datum.kind === 'name'"}], "mark": {"type": "text", "fontSize": 20, "color": "#111", "baseline": "middle", "align": "center"}, "encoding": {"text": {"field": "label"}}}
  ]},
  {"width": 274, "height": 214,
   "encoding": {"x": {"field": "T", "type": "quantitative", "scale": {"domain": [0, 700]}, "axis": {"title": null, "values": [0,100,200,300,400,500,600,700]}},
                "y": {"field": "k", "type": "quantitative", "scale": {"domain": [0, 40]}, "axis": {"title": "Susceptibility (10⁻⁶ m³ kg⁻¹)", "values": [0,5,10,15,20,25,30,35,40]}}},
   "layer": [
    {"data": {"name": "curves"}, "transform": [{"filter": "datum.panel === 'E' && datum.run === 'heating'"}], "mark": {"type": "line", "color": "#ff1a1a", "strokeWidth": 2.3}, "encoding": {}},
    {"data": {"name": "curves"}, "transform": [{"filter": "datum.panel === 'E' && datum.run === 'cooling'"}], "mark": {"type": "line", "color": "#5a5ac8", "strokeWidth": 2.3}, "encoding": {}},
    {"data": {"name": "arrows"}, "transform": [{"filter": "datum.panel === 'E'"}], "mark": {"type": "line", "strokeWidth": 1.5},
     "encoding": {"color": {"field": "run", "type": "nominal", "scale": {"domain": ["heating", "cooling"], "range": ["#ff1a1a", "#5a5ac8"]}, "legend": null}}},
    {"data": {"name": "arrows"}, "transform": [{"filter": "datum.panel === 'E' && datum.part === 'head' && datum.run === 'heating'"}], "mark": {"type": "point", "shape": "triangle-right", "filled": true, "opacity": 1, "size": 130, "color": "#ff1a1a", "angle": -13}},
    {"data": {"name": "arrows"}, "transform": [{"filter": "datum.panel === 'E' && datum.part === 'head' && datum.run === 'cooling'"}], "mark": {"type": "point", "shape": "triangle-left", "filled": true, "opacity": 1, "size": 130, "color": "#5a5ac8", "angle": -7.7}},
    {"data": {"name": "tc"}, "transform": [{"filter": "datum.panel === 'E' && datum.part !== 'text'"}], "mark": {"type": "line", "strokeWidth": 1.8, "color": "#ff1a1a"}, "encoding": {}},
    {"data": {"name": "tc"}, "transform": [{"filter": "datum.panel === 'E' && datum.part === 'head'"}], "mark": {"type": "point", "shape": "triangle-down", "filled": true, "opacity": 1, "size": 160, "color": "#ff1a1a"}},
    {"data": {"name": "tc"}, "transform": [{"filter": "datum.panel === 'E' && datum.part === 'text'"}], "mark": {"type": "text", "text": "T", "fontSize": 17, "fontWeight": "bold", "color": "#ff1a1a", "baseline": "middle", "align": "center"}},
    {"data": {"name": "tc"}, "transform": [{"filter": "datum.panel === 'E' && datum.part === 'text'"}], "mark": {"type": "text", "text": "c", "fontSize": 12, "fontWeight": "bold", "color": "#ff1a1a", "baseline": "middle", "align": "center", "dx": 9, "dy": 5}},
    {"data": {"name": "labels"}, "transform": [{"filter": "datum.panel === 'E' && datum.kind === 'letter'"}], "mark": {"type": "text", "fontSize": 27, "color": "#111", "baseline": "middle", "align": "center"}, "encoding": {"text": {"field": "label"}}},
    {"data": {"name": "labels"}, "transform": [{"filter": "datum.panel === 'E' && datum.kind === 'name'"}], "mark": {"type": "text", "fontSize": 20, "color": "#111", "baseline": "middle", "align": "center"}, "encoding": {"text": {"field": "label"}}}
  ]},
  {"width": 274, "height": 214,
   "encoding": {"x": {"field": "T", "type": "quantitative", "scale": {"domain": [0, 700]}, "axis": {"title": "Temperature (°C)", "values": [0,100,200,300,400,500,600,700]}},
                "y": {"field": "k", "type": "quantitative", "scale": {"domain": [0, 40]}, "axis": {"title": null, "values": [0,5,10,15,20,25,30,35,40]}}},
   "layer": [
    {"data": {"name": "curves"}, "transform": [{"filter": "datum.panel === 'F' && datum.run === 'heating'"}], "mark": {"type": "line", "color": "#ff1a1a", "strokeWidth": 2.3}, "encoding": {}},
    {"data": {"name": "curves"}, "transform": [{"filter": "datum.panel === 'F' && datum.run === 'cooling'"}], "mark": {"type": "line", "color": "#5a5ac8", "strokeWidth": 2.3}, "encoding": {}},
    {"data": {"name": "arrows"}, "transform": [{"filter": "datum.panel === 'F'"}], "mark": {"type": "line", "strokeWidth": 1.5},
     "encoding": {"color": {"field": "run", "type": "nominal", "scale": {"domain": ["heating", "cooling"], "range": ["#ff1a1a", "#5a5ac8"]}, "legend": null}}},
    {"data": {"name": "arrows"}, "transform": [{"filter": "datum.panel === 'F' && datum.part === 'head' && datum.run === 'heating'"}], "mark": {"type": "point", "shape": "triangle-right", "filled": true, "opacity": 1, "size": 130, "color": "#ff1a1a", "angle": -12.7}},
    {"data": {"name": "arrows"}, "transform": [{"filter": "datum.panel === 'F' && datum.part === 'head' && datum.run === 'cooling'"}], "mark": {"type": "point", "shape": "triangle-left", "filled": true, "opacity": 1, "size": 130, "color": "#5a5ac8", "angle": -8.1}},
    {"data": {"name": "tc"}, "transform": [{"filter": "datum.panel === 'F' && datum.part !== 'text'"}], "mark": {"type": "line", "strokeWidth": 1.8, "color": "#ff1a1a"}, "encoding": {}},
    {"data": {"name": "tc"}, "transform": [{"filter": "datum.panel === 'F' && datum.part === 'head'"}], "mark": {"type": "point", "shape": "triangle-down", "filled": true, "opacity": 1, "size": 160, "color": "#ff1a1a"}},
    {"data": {"name": "tc"}, "transform": [{"filter": "datum.panel === 'F' && datum.part === 'text'"}], "mark": {"type": "text", "text": "T", "fontSize": 17, "fontWeight": "bold", "color": "#ff1a1a", "baseline": "middle", "align": "center"}},
    {"data": {"name": "tc"}, "transform": [{"filter": "datum.panel === 'F' && datum.part === 'text'"}], "mark": {"type": "text", "text": "c", "fontSize": 12, "fontWeight": "bold", "color": "#ff1a1a", "baseline": "middle", "align": "center", "dx": 9, "dy": 5}},
    {"data": {"name": "labels"}, "transform": [{"filter": "datum.panel === 'F' && datum.kind === 'letter'"}], "mark": {"type": "text", "fontSize": 27, "color": "#111", "baseline": "middle", "align": "center"}, "encoding": {"text": {"field": "label"}}},
    {"data": {"name": "labels"}, "transform": [{"filter": "datum.panel === 'F' && datum.kind === 'name'"}], "mark": {"type": "text", "fontSize": 20, "color": "#111", "baseline": "middle", "align": "center"}, "encoding": {"text": {"field": "label"}}}
  ]},
  {"width": 274, "height": 214,
   "encoding": {"x": {"field": "T", "type": "quantitative", "scale": {"domain": [0, 700]}, "axis": {"title": "Temperature (°C)", "values": [0,100,200,300,400,500,600,700]}},
                "y": {"field": "k", "type": "quantitative", "scale": {"domain": [0, 30]}, "axis": {"title": "Susceptibility (10⁻⁶ m³ kg⁻¹)", "values": [0,5,10,15,20,25,30]}}},
   "layer": [
    {"data": {"name": "curves"}, "transform": [{"filter": "datum.panel === 'G' && datum.run === 'heating'"}], "mark": {"type": "line", "color": "#ff1a1a", "strokeWidth": 2.3}, "encoding": {}},
    {"data": {"name": "curves"}, "transform": [{"filter": "datum.panel === 'G' && datum.run === 'cooling'"}], "mark": {"type": "line", "color": "#5a5ac8", "strokeWidth": 2.3}, "encoding": {}},
    {"data": {"name": "arrows"}, "transform": [{"filter": "datum.panel === 'G'"}], "mark": {"type": "line", "strokeWidth": 1.5},
     "encoding": {"color": {"field": "run", "type": "nominal", "scale": {"domain": ["heating", "cooling"], "range": ["#ff1a1a", "#5a5ac8"]}, "legend": null}}},
    {"data": {"name": "arrows"}, "transform": [{"filter": "datum.panel === 'G' && datum.part === 'head' && datum.run === 'heating'"}], "mark": {"type": "point", "shape": "triangle-right", "filled": true, "opacity": 1, "size": 130, "color": "#ff1a1a", "angle": -2.9}},
    {"data": {"name": "arrows"}, "transform": [{"filter": "datum.panel === 'G' && datum.part === 'head' && datum.run === 'cooling'"}], "mark": {"type": "point", "shape": "triangle-left", "filled": true, "opacity": 1, "size": 130, "color": "#5a5ac8", "angle": -3.3}},
    {"data": {"name": "tc"}, "transform": [{"filter": "datum.panel === 'G' && datum.part !== 'text'"}], "mark": {"type": "line", "strokeWidth": 1.8, "color": "#ff1a1a"}, "encoding": {}},
    {"data": {"name": "tc"}, "transform": [{"filter": "datum.panel === 'G' && datum.part === 'head'"}], "mark": {"type": "point", "shape": "triangle-down", "filled": true, "opacity": 1, "size": 160, "color": "#ff1a1a"}},
    {"data": {"name": "tc"}, "transform": [{"filter": "datum.panel === 'G' && datum.part === 'text'"}], "mark": {"type": "text", "text": "T", "fontSize": 17, "fontWeight": "bold", "color": "#ff1a1a", "baseline": "middle", "align": "center"}},
    {"data": {"name": "tc"}, "transform": [{"filter": "datum.panel === 'G' && datum.part === 'text'"}], "mark": {"type": "text", "text": "c", "fontSize": 12, "fontWeight": "bold", "color": "#ff1a1a", "baseline": "middle", "align": "center", "dx": 9, "dy": 5}},
    {"data": {"name": "labels"}, "transform": [{"filter": "datum.panel === 'G' && datum.kind === 'letter'"}], "mark": {"type": "text", "fontSize": 27, "color": "#111", "baseline": "middle", "align": "center"}, "encoding": {"text": {"field": "label"}}},
    {"data": {"name": "labels"}, "transform": [{"filter": "datum.panel === 'G' && datum.kind === 'name'"}], "mark": {"type": "text", "fontSize": 20, "color": "#111", "baseline": "middle", "align": "center"}, "encoding": {"text": {"field": "label"}}}
  ]}
]
}
